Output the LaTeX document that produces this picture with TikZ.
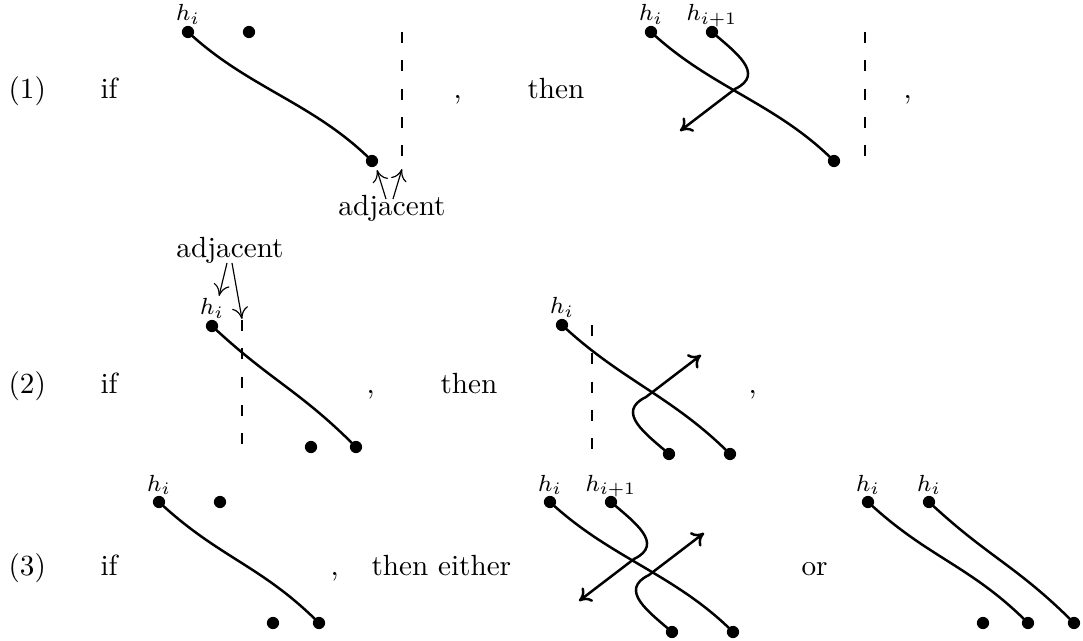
\documentclass[tikz,border=0pt]{standalone}
\usetikzlibrary{arrows.meta}
\begin{document}
\begin{tikzpicture}[x=0.3425pt,y=-0.3425pt,
  dot/.style={circle,fill=black,inner sep=0pt,minimum size=4.2pt},
  strand/.style={line width=0.85pt},
  scurve/.style={to path={.. controls +(60,56) and +(-58,-58) .. (\tikztotarget)}},
  guide/.style={line width=0.4pt,dash pattern=on 3.8pt off 5.9pt},
  hlab/.style={anchor=base,inner sep=0pt,font=\footnotesize},
  txt/.style={anchor=base west,inner sep=0pt},
  pointer/.style={line width=0.4pt,-{Computer Modern Rightarrow[length=4pt,width=5.5pt]}},
  bent/.style={strand,-{Computer Modern Rightarrow[length=4pt,width=6pt]}},
]
\useasboundingbox (0,0) rectangle (1083,641);

% ---------- texts ----------
\node[txt] (n1) at (8,99) {(1)};
\node[txt] (if1) at (100,99) {if};
\node[txt] (c11) at (453,99) {,};
\node[txt] (then1) at (527,99) {then};
\node[txt] (c12) at (903,99) {,};

\node[txt] (n2) at (8,394) {(2)};
\node[txt] (if2) at (100,394) {if};
\node[txt] (c21) at (366,394) {,};
\node[txt] (then2) at (440,394) {then};
\node[txt] (c22) at (748,394) {,};

\node[txt] (n3) at (8,575) {(3)};
\node[txt] (if3) at (100,575) {if};
\node[txt] (c31) at (330,575) {,};
\node[txt] (then3) at (371,575) {then either};
\node[txt] (or3) at (801,575) {or};

% ---------- row 1, diagram 1 ----------
\node[dot] (A1) at (188,32) {};
\node[dot] (B1) at (249,32) {};
\node[dot] (C1) at (372,161) {};
\node[hlab] (hA1) at (188,21) {$h_i$};
\coordinate (g1t) at (402,32);
\coordinate (g1b) at (402,168);
\draw[guide] (g1t) -- (g1b);
\draw[strand] (A1.center) to[scurve] (C1.center);
\node[anchor=base,inner sep=0pt] (adj1) at (392,216) {adjacent};
\coordinate (p1a) at (386,199);
\coordinate (p1b) at (393,199);
\coordinate (q1a) at (377,170);
\coordinate (q1b) at (402,169);
\draw[pointer] (p1a) -- (q1a);
\draw[pointer] (p1b) -- (q1b);

% ---------- row 1, diagram 2 ----------
\node[dot] (D) at (651,32) {};
\node[dot] (E) at (712,32) {};
\node[dot] (F) at (834,161) {};
\node[hlab] (hD) at (651,21) {$h_i$};
\node[hlab] (hE) at (712,21) {$h_{i+1}$};
\coordinate (g2t) at (865,32);
\coordinate (g2b) at (865,162);
\draw[guide] (g2t) -- (g2b);
\draw[strand] (D.center) to[scurve] (F.center);
\coordinate (E1) at (735,89);
\coordinate (Et) at (680,131);
\draw[bent] (E.center) .. controls +(23,20) and +(31,-15) .. (E1) -- (Et);

% ---------- row 2, diagram 1 ----------
\node[dot] (G) at (212,326) {};
\node[dot] (H) at (311,447) {};
\node[dot] (I) at (356,447) {};
\node[hlab] (hG) at (212,315) {$h_i$};
\coordinate (g3t) at (242,320);
\coordinate (g3b) at (242,448);
\draw[guide] (g3t) -- (g3b);
\draw[strand] (G.center) to[scurve] (I.center);
\node[anchor=base,inner sep=0pt] (adj2) at (230,258) {adjacent};
\coordinate (p2a) at (227,263);
\coordinate (p2b) at (232,263);
\coordinate (q2a) at (219,296);
\coordinate (q2b) at (242,319);
\draw[pointer] (p2a) -- (q2a);
\draw[pointer] (p2b) -- (q2b);

% ---------- row 2, diagram 2 ----------
\node[dot] (J) at (562,325) {};
\node[dot] (K) at (669,454) {};
\node[dot] (L) at (730,454) {};
\node[hlab] (hJ) at (562,314) {$h_i$};
\coordinate (g4t) at (592,325);
\coordinate (g4b) at (592,455);
\draw[guide] (g4t) -- (g4b);
\draw[strand] (J.center) to[scurve] (L.center);
\coordinate (K1) at (646,397);
\coordinate (Kt) at (701,355);
\draw[bent] (K.center) .. controls +(-23,-20) and +(-31,15) .. (K1) -- (Kt);

% ---------- row 3, diagram 1 ----------
\node[dot] (M) at (159,502) {};
\node[dot] (N) at (220,502) {};
\node[dot] (O) at (273,623) {};
\node[dot] (P) at (319,623) {};
\node[hlab] (hM) at (159,491) {$h_i$};
\draw[strand] (M.center) to[scurve] (P.center);

% ---------- row 3, diagram 2 ----------
\node[dot] (Q) at (550,502) {};
\node[dot] (R) at (611,502) {};
\node[dot] (S) at (672,632) {};
\node[dot] (T) at (733,632) {};
\node[hlab] (hQ) at (550,491) {$h_i$};
\node[hlab] (hR) at (611,491) {$h_{i+1}$};
\draw[strand] (Q.center) to[scurve] (T.center);
\coordinate (R1) at (634,559);
\coordinate (Rt) at (579,601);
\draw[bent] (R.center) .. controls +(23,20) and +(31,-15) .. (R1) -- (Rt);
\coordinate (S1) at (649,575);
\coordinate (St) at (704,533);
\draw[bent] (S.center) .. controls +(-23,-20) and +(-31,15) .. (S1) -- (St);

% ---------- row 3, diagram 3 ----------
\node[dot] (U) at (868,502) {};
\node[dot] (V) at (929,502) {};
\node[dot] (W) at (983,623) {};
\node[dot] (X) at (1028,623) {};
\node[dot] (Y) at (1074,623) {};
\node[hlab] (hU) at (868,491) {$h_i$};
\node[hlab] (hV) at (929,491) {$h_i$};
\draw[strand] (U.center) to[scurve] (X.center);
\draw[strand] (V.center) to[scurve] (Y.center);
\end{tikzpicture}
\end{document}
